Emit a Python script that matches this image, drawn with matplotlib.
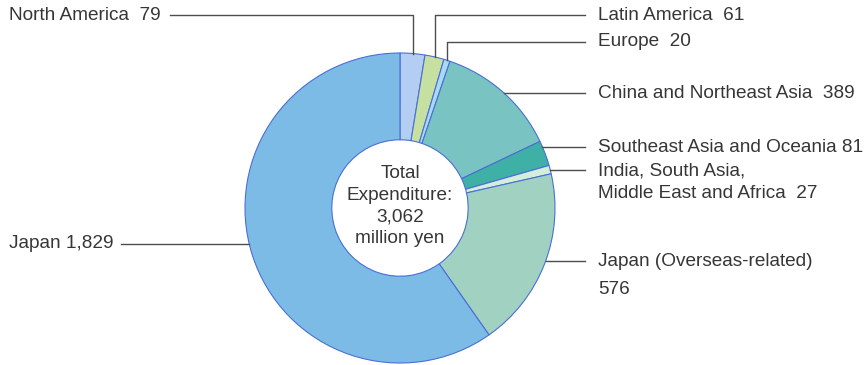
import numpy as np
import matplotlib
matplotlib.use("Agg")
import matplotlib.pyplot as plt

plt.rcParams['font.family'] = ['Liberation Sans', 'DejaVu Sans']

# Expenditure by region (million yen), clockwise from 12 o'clock
regions = ['North America', 'Latin America', 'Europe', 'China and Northeast Asia',
           'Southeast Asia and Oceania', 'India, South Asia,\nMiddle East and Africa',
           'Japan (Overseas-related)\n', 'Japan']
values = [79, 61, 20, 389, 81, 27, 576, 1829]
separators = ['  ', '  ', '  ', '  ', ' ', '  ', '', ' ']
colors = ['#b4cdf2', '#c6e0a2', '#a9d9f3', '#79c4c2',
          '#3fb0a6', '#d4eedd', '#a0d1c1', '#7cbbe5']
total_label = 'Total\nExpenditure:\n{:,}\nmillion yen'

W, H = 867, 365
TXT = '#363636'
LINE = '#4d4d4d'
FS = 13.7

fig = plt.figure(figsize=(W / 100, H / 100), dpi=100)
ax = fig.add_axes([0, 0, 1, 1])

cx, cy_top, R = 400, 208, 155
cy = H - cy_top


def yy(top):
    # pixel row from top -> data y
    return H - top


ax.pie(values, colors=colors, startangle=90, counterclock=False,
       center=(cx, cy), radius=R, frame=True,
       wedgeprops=dict(width=R * 0.56, edgecolor='#4a6fd6', linewidth=0.8))
ax.set_xlim(0, W)
ax.set_ylim(0, H)
ax.axis('off')

ax.text(cx, yy(206), total_label.format(sum(values)), ha='center', va='center',
        fontsize=FS, color=TXT, linespacing=1.38)

# wedge mid angles (clockwise from top, degrees)
cum = np.cumsum([0] + values)
mids = (cum[:-1] + cum[1:]) / 2 / cum[-1] * 360


def edge_point_mid(i):
    a = np.radians(mids[i])
    return cx + R * np.sin(a), cy + R * np.cos(a)


def edge_x_at(top, side=1):
    dy = yy(top) - cy
    return cx + side * np.sqrt(R ** 2 - dy ** 2)


XR_LINE, XR_TEXT = 585, 598
LW = 1.0

# top wedges: vertical then horizontal leaders
top_label_rows = {0: 15, 1: 15, 2: 42}
for i, row in top_label_rows.items():
    px, py = edge_point_mid(i)
    if i == 0:
        ax.plot([px, px, 170], [py, yy(row), yy(row)], color=LINE, lw=LW)
        ax.text(9, yy(row), regions[i] + separators[i] + f'{values[i]:,}',
                ha='left', va='center', fontsize=FS, color=TXT)
    else:
        ax.plot([px, px, XR_LINE], [py, yy(row), yy(row)], color=LINE, lw=LW)
        ax.text(XR_TEXT, yy(row), regions[i] + separators[i] + f'{values[i]:,}',
                ha='left', va='center', fontsize=FS, color=TXT)

# right side horizontal leaders
right_rows = {3: 93, 4: 147, 5: 170, 6: 261}
for i, row in right_rows.items():
    ax.plot([edge_x_at(row), XR_LINE], [yy(row), yy(row)], color=LINE, lw=LW)
    lines = (regions[i] + separators[i] + f'{values[i]:,}').split('\n')
    gap = 22 if i == 5 else 27
    for k, s in enumerate(lines):
        ax.text(XR_TEXT, yy(row + 1 + k * gap), s, ha='left', va='center',
                fontsize=FS, color=TXT)

# Japan on the left
row = 244
ax.plot([121, edge_x_at(row, -1)], [yy(row), yy(row)], color=LINE, lw=LW)
ax.text(9, yy(row), regions[7] + separators[7] + f'{values[7]:,}',
        ha='left', va='center', fontsize=FS, color=TXT)

fig.savefig('out.png', dpi=100)
